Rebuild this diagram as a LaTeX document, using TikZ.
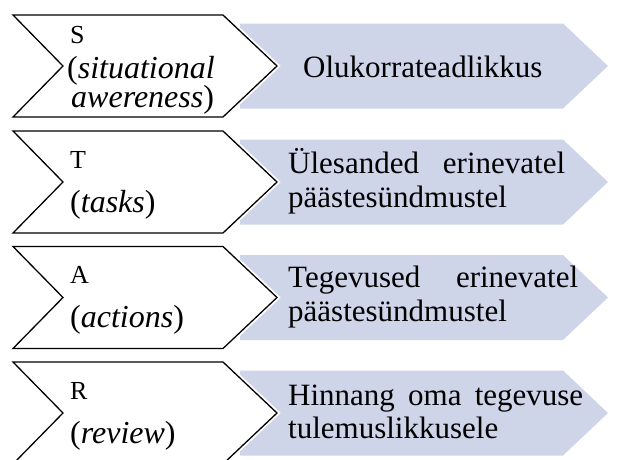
\documentclass[tikz,border=0pt]{standalone}
\usepackage{fontspec}
\setmainfont{LiberationSerif}[Extension=.ttf,UprightFont=*-Regular,ItalicFont=*-Italic,BoldFont=*-Bold]
\definecolor{bluefill}{RGB}{207,213,233}
\tikzset{
  chev/.style={fill=white,draw=black,line width=1.3pt,line join=miter},
  chevhalo/.style={draw=white,line width=5pt},
  bluebox/.style={fill=bluefill,draw=none},
  lettr/.style={anchor=base west,inner sep=0pt,font=\fontsize{26}{28}\selectfont},
  ital/.style={anchor=base west,inner sep=0pt,font=\fontsize{32}{34}\selectfont},
  rtext/.style={anchor=base west,inner sep=0pt,font=\fontsize{31}{34}\selectfont},
}
\newcommand{\rowshapes}[1]{%
  \path[bluebox] (240,#1+8.5) -- (563,#1+8.5) -- (608,#1+51) -- (563,#1+93.5) -- (240,#1+93.5) -- cycle;
  \path[chevhalo] (13,#1) -- (223,#1) -- (277,#1+51) -- (223,#1+102) -- (13,#1+102) -- (63,#1+51) -- cycle;
  \path[chev] (13,#1) -- (223,#1) -- (277,#1+51) -- (223,#1+102) -- (13,#1+102) -- (63,#1+51) -- cycle;
}
\begin{document}
\begin{tikzpicture}[x=1pt,y=-1pt]
\useasboundingbox (0,0) rectangle (625,459);
\rowshapes{15}
\rowshapes{131}
\rowshapes{246.5}
\rowshapes{362}
% row 1
\node[lettr] (s) at (70,43) {S};
\node[ital] (s1) at (67,78) {(\textit{situational}};
\node[ital] (s2) at (71,107) {\textit{awereness})};
\node[rtext] (r1) at (303,77) {Olukorrateadlikkus};
% row 2
\node[lettr] (t) at (70,168) {T};
\node[ital] (t1) at (70,212) {(\textit{tasks})};
\node[rtext] (r2a) at (288,173) {\hbox to 277pt{Ülesanded\hfill erinevatel}};
\node[rtext] (r2b) at (288,207) {päästesündmustel};
% row 3
\node[lettr] (a) at (70,283.5) {A};
\node[ital] (a1) at (70,327.5) {(\textit{actions})};
\node[rtext] (r3a) at (288,287) {\hbox to 290pt{Tegevused\hfill erinevatel}};
\node[rtext] (r3b) at (288,321) {päästesündmustel};
% row 4
\node[lettr] (r) at (70,399) {R};
\node[ital] (r4) at (70,443) {(\textit{review})};
\node[rtext] (r4a) at (288,405) {\hbox to 295pt{Hinnang\hfill oma\hfill tegevuse}};
\node[rtext] (r4b) at (288,438) {tulemuslikkusele};
\end{tikzpicture}
\end{document}
